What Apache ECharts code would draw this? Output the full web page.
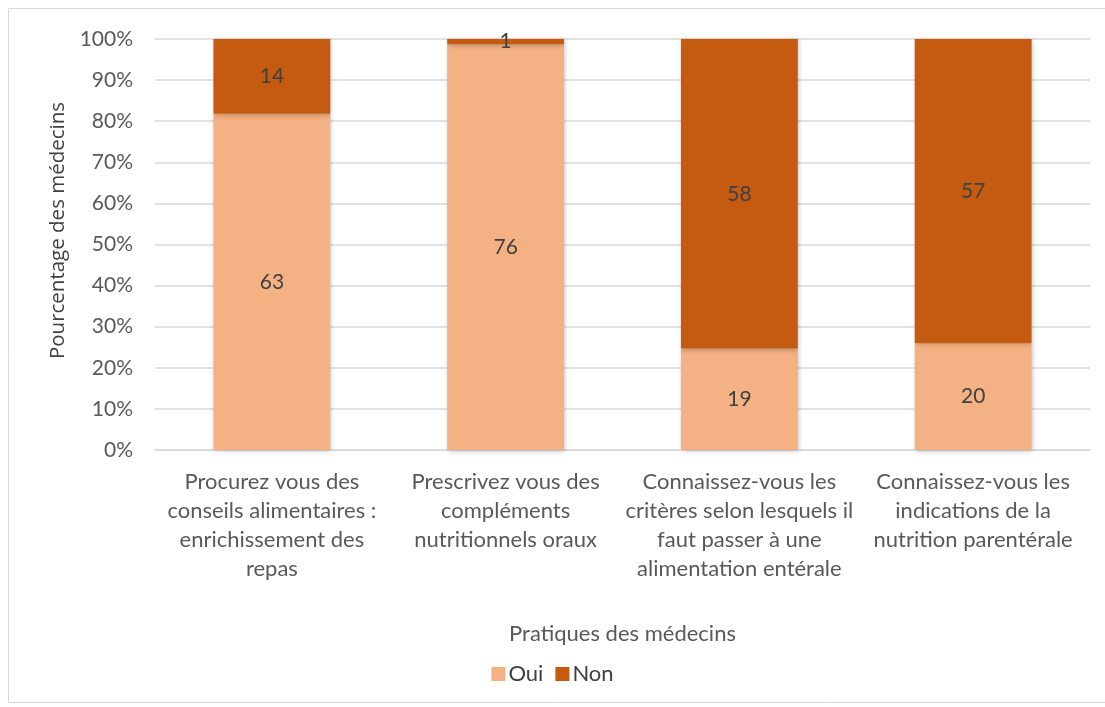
<!DOCTYPE html>
<html>
<head>
<meta charset="utf-8">
<script src="https://cdn.jsdelivr.net/npm/echarts@6/dist/echarts.min.js"></script>
<style>
  html, body { margin: 0; padding: 0; background: #fff; }
  #chart { width: 1105px; height: 707px; }
</style>
</head>
<body>
<div id="chart"></div>
<script>
var categories = [
    'Procurez vous des\nconseils alimentaires :\nenrichissement des\nrepas',
    'Prescrivez vous des\ncompléments\nnutritionnels oraux',
    'Connaissez-vous les\ncritères selon lesquels il\nfaut passer à une\nalimentation entérale',
    'Connaissez-vous les\nindications de la\nnutrition parentérale'
];
var oui = [63, 76, 19, 20];
var non = [14, 1, 58, 57];
var yTicks = [0, 10, 20, 30, 40, 50, 60, 70, 80, 90, 100];

// part de chaque réponse en %
var ouiPct = oui.map(function (v, i) { return v / (v + non[i]) * 100; });
var nonPct = non.map(function (v, i) { return v / (oui[i] + v) * 100; });

var font = 'Lato';
var myChart = echarts.init(document.getElementById('chart'));

var barShadow = { shadowBlur: 5, shadowColor: 'rgba(0,0,0,0.25)', shadowOffsetX: 1, shadowOffsetY: 1 };

var option = {
    animation: false,
    textStyle: { fontFamily: font },
    graphic: [{
        type: 'rect',
        shape: { x: 8.5, y: 8.5, width: 1110, height: 694 },
        style: { fill: 'none', stroke: '#d9d9d9', lineWidth: 1 },
        silent: true
    }],
    grid: { left: 155, right: 15, top: 39, bottom: 257, containLabel: false },
    legend: {
        bottom: 17,
        left: 'center',
        itemWidth: 14,
        itemHeight: 14,
        itemGap: 12,
        icon: 'rect',
        textStyle: { fontFamily: font, fontSize: 22, color: '#404040', padding: [0, 0, 0, -2] },
        data: ['Oui', 'Non']
    },
    xAxis: {
        type: 'category',
        data: categories,
        name: 'Pratiques des médecins',
        nameLocation: 'middle',
        nameGap: 173,
        nameTextStyle: { fontFamily: font, fontSize: 22, color: '#595959' },
        axisLine: { lineStyle: { color: '#d9d9d9', width: 1.5 } },
        axisTick: { show: false },
        axisLabel: {
            interval: 0,
            margin: 17,
            fontFamily: font,
            fontSize: 22,
            color: '#595959',
            lineHeight: 29
        }
    },
    yAxis: {
        type: 'value',
        min: 0,
        max: 100,
        interval: 10,
        name: 'Pourcentage des médecins',
        nameLocation: 'middle',
        nameGap: 84,
        nameTextStyle: { fontFamily: 'Open Sans', fontSize: 20.5, color: '#404040', padding: [0, 0, 0, 28] },
        axisLine: { show: false },
        axisTick: { show: false },
        splitLine: { lineStyle: { color: '#d9d9d9', width: 1.5 } },
        axisLabel: {
            margin: 22,
            fontFamily: font,
            fontSize: 21,
            color: '#595959',
            formatter: function (v) { return yTicks.indexOf(v) >= 0 ? v + '%' : ''; }
        }
    },
    series: [
        {
            name: 'Oui',
            type: 'bar',
            stack: 'total',
            barWidth: '50%',
            itemStyle: Object.assign({ color: '#F4B183' }, barShadow),
            label: {
                show: true,
                position: 'inside',
                fontFamily: font,
                fontSize: 21,
                color: '#404040',
                formatter: function (p) { return oui[p.dataIndex]; }
            },
            data: ouiPct
        },
        {
            name: 'Non',
            type: 'bar',
            stack: 'total',
            barWidth: '50%',
            itemStyle: Object.assign({ color: '#C55A11' }, barShadow),
            label: {
                show: true,
                position: 'inside',
                fontFamily: font,
                fontSize: 21,
                color: '#404040',
                formatter: function (p) { return non[p.dataIndex]; }
            },
            data: nonPct
        }
    ]
};

myChart.setOption(option);
</script>
</body>
</html>
